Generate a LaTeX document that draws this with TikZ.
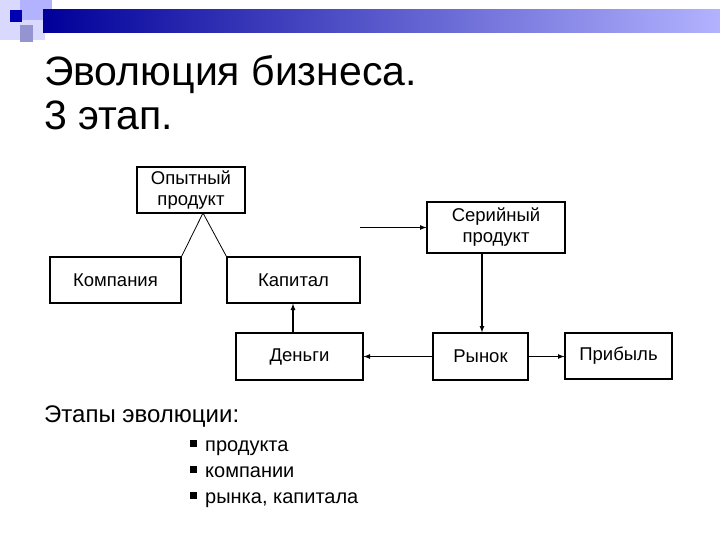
\documentclass[tikz,border=0pt]{standalone}
\usepackage{fontspec}
\setmainfont{Liberation Sans}
\begin{document}
\begin{tikzpicture}[x=1pt,y=-1pt,
  box/.style={draw,line width=1.2pt,minimum width=#1,font=\fontsize{18.5}{21}\selectfont,align=center,inner sep=0pt},
  arr/.style={line width=1.2pt,-latex}]
\useasboundingbox (0,0) rectangle (720,540);
\fill[white] (0,0) rectangle (720,540);
% decoration
\fill[blue!15] (0,0) rectangle (45,40);
\fill[blue!30!white] (20,0) rectangle (52,20);
\fill[blue!40!gray!60] (20,25) rectangle (33,42);
\fill[blue!70!black] (10,10) rectangle (22,22);
\shade[left color=blue!60!black,right color=blue!30!white] (43,10) rectangle (720,33);
% title
\node[anchor=base west,font=\fontsize{41}{48}\selectfont,inner sep=0pt] (t1) at (44,86) {Эволюция бизнеса.};
\node[anchor=base west,font=\fontsize{41}{48}\selectfont,inner sep=0pt] (t2) at (44,130) {3 этап.};
% boxes
\node[box=108pt,minimum height=46pt] (op) at (191,190) {Опытный\\продукт};
\node[box=131pt,minimum height=46pt] (ko) at (115.5,280) {Компания};
\node[box=133pt,minimum height=46pt] (ka) at (293.5,280) {Капитал};
\node[box=127pt,minimum height=47pt] (de) at (299.5,356.5) {Деньги};
\node[box=138pt,minimum height=51pt] (se) at (496,227.5) {Серийный\\продукт};
\node[box=95pt,minimum height=47pt] (ry) at (480.5,356.5) {Рынок};
\node[box=107pt,minimum height=46pt] (pr) at (618.5,356) {Прибыль};
\coordinate (apex) at (203,213);
\coordinate (fa) at (360,227.5);
\draw[line width=0.8pt] (ko.north east) -- (apex) -- (ka.north west);
\draw[arr] (fa) -- (se.west);
\draw[arr] (se.south -| 482,0) -- (ry.north -| 482,0);
\draw[arr] (ry.west) -- (de.east);
\draw[arr] (ry.east) -- (ry.east -| pr.west);
\draw[arr] (de.north -| 293,0) -- (ka.south -| 293,0);
% text
\node[anchor=base west,font=\fontsize{24}{28}\selectfont,inner sep=0pt] (et) at (44,422) {Этапы эволюции:};
\foreach \y/\t [count=\i] in {451/продукта,477/компании,503/{рынка, капитала}}{
  \node[anchor=base west,font=\fontsize{20}{24}\selectfont,inner sep=0pt] (b\i) at (205,\y) {\t};
  \fill (190,\y-11) rectangle +(7,7);
}
\end{tikzpicture}
\end{document}
